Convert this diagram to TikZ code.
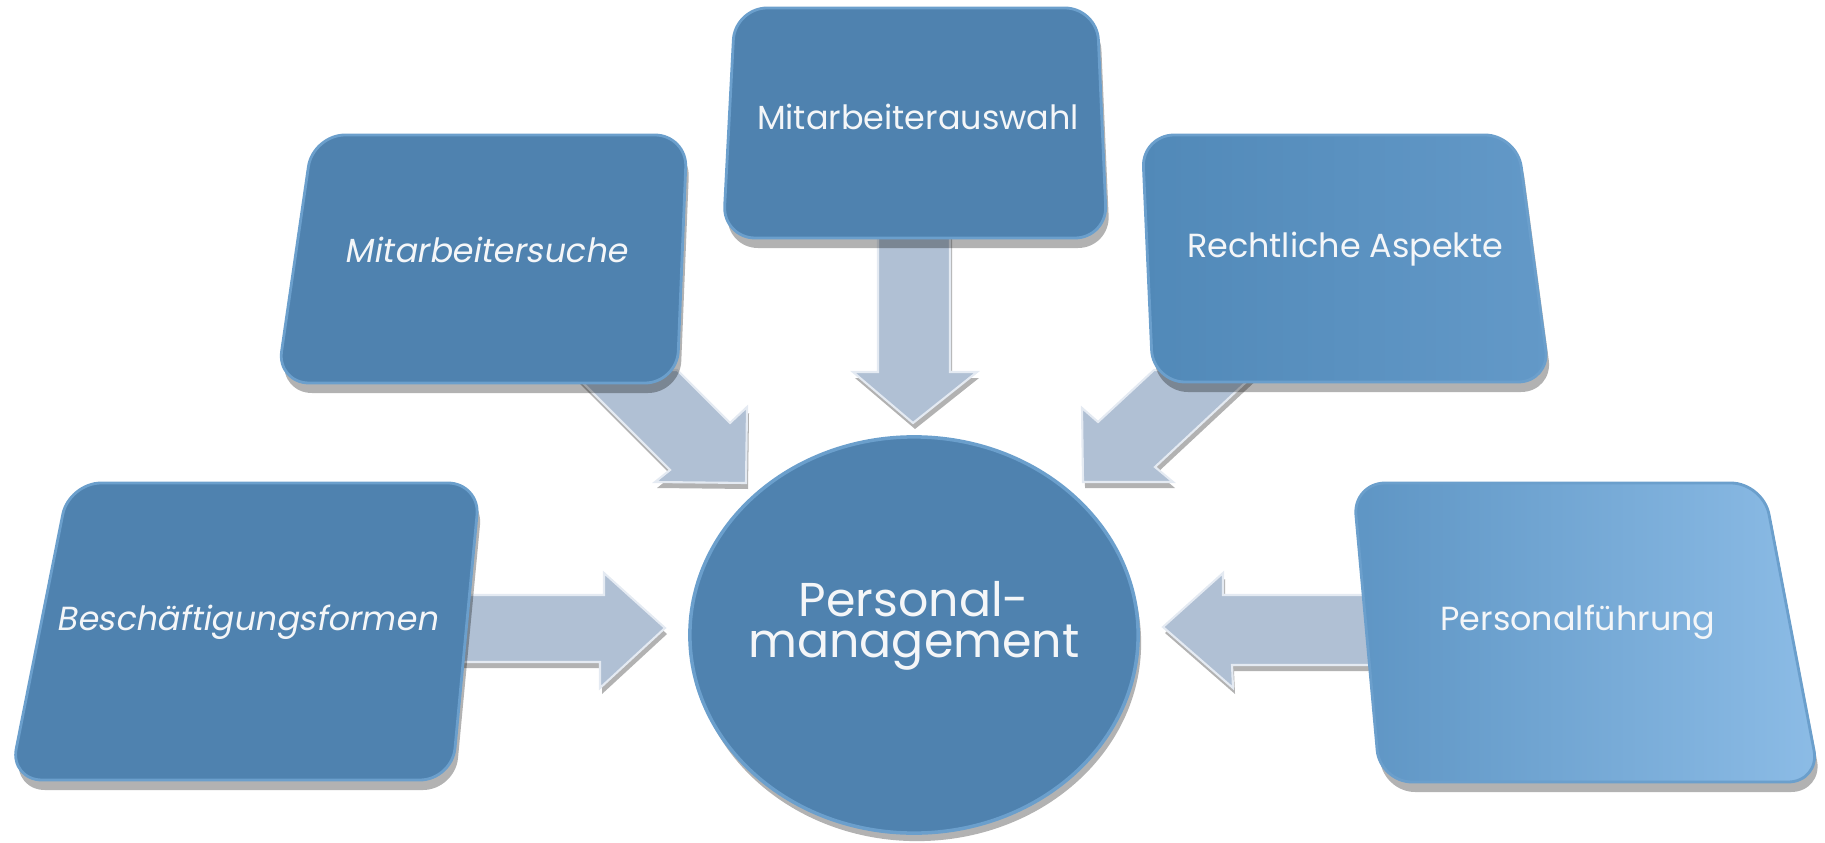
\documentclass[tikz,border=0pt]{standalone}
\usepackage{fontspec}
\setmainfont{Poppins}
\newfontfamily\slantfont[FakeSlant=0.18]{Poppins}
\usetikzlibrary{shadows}
\definecolor{boxblue}{HTML}{4F82AF}
\definecolor{boxedge}{HTML}{6B9FCC}
\definecolor{rlight}{HTML}{6399C8}
\definecolor{rdark}{HTML}{5189B8}
\definecolor{pdark}{HTML}{5E95C4}
\definecolor{plight}{HTML}{8CBCE6}
\definecolor{arrowfill}{HTML}{B0C0D4}
\definecolor{arrowedge}{HTML}{E4EAF2}
\definecolor{txt}{HTML}{F4F6F8}
\tikzset{
  blockarrow/.style={fill=arrowfill, draw=arrowedge, line width=0.6pt, line join=miter,
    drop shadow={shadow xshift=0.02cm, shadow yshift=-0.06cm, opacity=0.3, fill=black}},
  boxshape/.style={fill=boxblue, draw=boxedge, line width=0.8pt, rounded corners=0.32cm,
    drop shadow={shadow xshift=0.03cm, shadow yshift=-0.1cm, opacity=0.3, fill=black}},
  lbl/.style={text=txt, font=\fontsize{9.5}{12}\selectfont, align=center, inner sep=0pt},
  lblit/.style={lbl, font=\slantfont\fontsize{9.5}{12}\selectfont},
  biglbl/.style={text=txt, font=\fontsize{13.5}{11.5}\selectfont, align=center, inner sep=0pt}
}
\begin{document}
\begin{tikzpicture}[x=0.01cm,y=-0.01cm]
\useasboundingbox (0,0) rectangle (1825,843);

% ---- block arrows (under the boxes)
\path[blockarrow] (450,595) -- (604,595) -- (604,573) -- (665,628) -- (600,688) -- (600,662) -- (450,662) -- cycle;
\path[blockarrow] (1163,627) -- (1223,573) -- (1223,595) -- (1375,595) -- (1375,665) -- (1232,665) -- (1233,688) -- cycle;
\path[blockarrow] (878,225) -- (950,225) -- (950,372) -- (977,372) -- (913,423) -- (853,372) -- (878,372) -- cycle;
\path[blockarrow] (570,370) -- (670,470) -- (655,482) -- (746,483) -- (747,407) -- (730,423) -- (677,370) -- cycle;
\path[blockarrow] (1082,408) -- (1083,482) -- (1173,482) -- (1155,467) -- (1259,370) -- (1154,370) -- (1098,422) -- cycle;

% ---- boxes
\path[boxshape] (69,483) -- (480,483) -- (452,780) -- (10,780) -- cycle;
\path[boxshape] (313,135) -- (687,135) -- (677,383) -- (277,383) -- cycle;
\path[boxshape] (735,8) -- (1097,8) -- (1107,238) -- (723,238) -- cycle;
\path[boxshape, left color=rdark, right color=rlight] (1142,135) -- (1517,135) -- (1550,382) -- (1153,382) -- cycle;
\path[boxshape, left color=pdark, right color=plight] (1353,483) -- (1763,483) -- (1820,782) -- (1380,782) -- cycle;

% ---- centre
\path[fill=boxblue, draw=boxedge, line width=1pt,
  drop shadow={shadow xshift=0.03cm, shadow yshift=-0.08cm, opacity=0.3, fill=black}]
  (914,635) ellipse [x radius=2.24cm, y radius=1.98cm];

% ---- labels
\node[lblit] (b1) at (247,622) {Beschäftigungsformen};
\node[lblit] (b2) at (486,250) {Mitarbeitersuche};
\node[lbl] (b3) at (918,117) {Mitarbeiterauswahl};
\node[lbl] (b4) at (1345,249) {Rechtliche Aspekte};
\node[lbl] (b5) at (1578,622) {Personalführung};
\node[biglbl] (c) at (914,626) {Personal-\\management};
\end{tikzpicture}
\end{document}
